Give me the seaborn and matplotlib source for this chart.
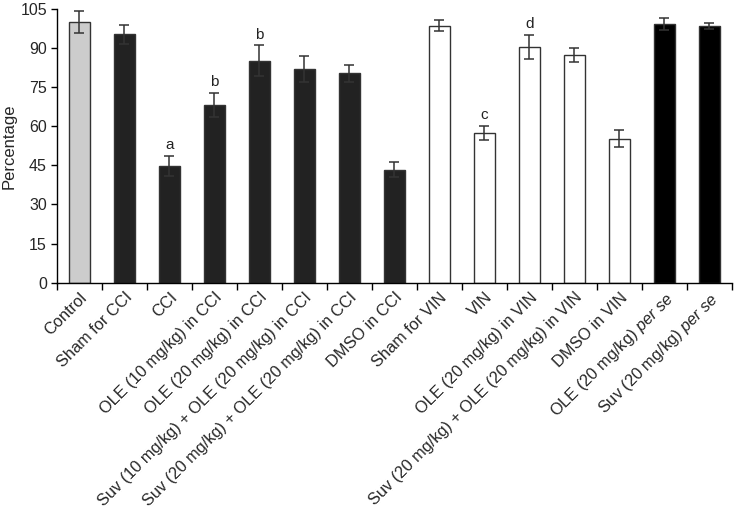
import numpy as np
import pandas as pd
import matplotlib
matplotlib.use('Agg')
import matplotlib.pyplot as plt
import matplotlib.transforms as mtransforms
import seaborn as sns

# Data
groups = ['Control', 'Sham for CCI', 'CCI', 'OLE (10 mg/kg) in CCI', 'OLE (20 mg/kg) in CCI',
          'Suv (10 mg/kg) + OLE (20 mg/kg) in CCI', 'Suv (20 mg/kg) + OLE (20 mg/kg) in CCI',
          'DMSO in CCI', 'Sham for VIN', 'VIN', 'OLE (20 mg/kg) in VIN',
          'Suv (20 mg/kg) + OLE (20 mg/kg) in VIN', 'DMSO in VIN',
          r'OLE (20 mg/kg) $\mathit{per\ se}$', r'Suv (20 mg/kg) $\mathit{per\ se}$']
means = [100, 95.3, 44.8, 68.2, 85.2, 82, 80.3, 43.4, 98.5, 57.3, 90.4, 87.4, 55.3, 99.2, 98.5]
errs = [4.3, 3.7, 3.9, 4.7, 5.8, 4.9, 3.3, 3.0, 2.1, 2.7, 4.5, 2.7, 3.3, 2.3, 1.3]
letters = ['', '', 'a', 'b', 'b', '', '', '', '', 'c', 'd', '', '', '', '']
bar_colors = ['#cccccc'] + ['#222222'] * 7 + ['#ffffff'] * 5 + ['#000000'] * 2

sns.set_style('ticks')
plt.rcParams['font.family'] = ['Liberation Sans', 'DejaVu Sans']
plt.rcParams['mathtext.fontset'] = 'custom'
plt.rcParams['mathtext.it'] = 'Liberation Sans:italic'
plt.rcParams['mathtext.rm'] = 'Liberation Sans'

df = pd.DataFrame({'group': groups, 'value': means})

fig = plt.figure(figsize=(7.35, 5.14), dpi=100)
ax = fig.add_axes([0.0771, 0.45, 0.9188, 0.5325])

sns.barplot(data=df, x='group', y='value', hue='group', palette=bar_colors,
            width=0.47, edgecolor='#333333', linewidth=1, legend=False, ax=ax)
ax.errorbar(np.arange(len(groups)), means, yerr=errs, fmt='none', ecolor='#333333',
            elinewidth=1.1, capsize=3.5, capthick=1.1)

for i, lab in enumerate(letters):
    if lab:
        ax.text(i, means[i] + errs[i] + 1.5, lab, ha='center', va='bottom', fontsize=11, color='#222222')

ax.set_xlim(-0.5, len(groups) - 0.5)
ax.set_ylim(0, 105)
ax.set_yticks(np.arange(0, 106, 15))
ax.set_ylabel('Percentage', fontsize=12, labelpad=3)
ax.set_xlabel('')

ax.set_xticks(np.arange(len(groups)))
ax.set_xticklabels(groups, rotation=45, ha='right', va='top', rotation_mode='anchor', fontsize=11.8)
offset = mtransforms.ScaledTranslation(10 / 100, 0, fig.dpi_scale_trans)
for t in ax.get_xticklabels():
    t.set_transform(t.get_transform() + offset)
ax.tick_params(axis='x', length=0, pad=5)
# category separator ticks
ax.set_xticks(np.arange(-0.5, len(groups), 1), minor=True)
ax.tick_params(axis='x', which='minor', length=5, width=1, color='black', direction='out')
ax.tick_params(axis='y', length=4, width=1, color='black', labelsize=11.5, pad=3)

for s in ['top', 'right']:
    ax.spines[s].set_visible(False)
for s in ['left', 'bottom']:
    ax.spines[s].set_color('black')
    ax.spines[s].set_linewidth(1)

fig.savefig('out.png', dpi=100)
